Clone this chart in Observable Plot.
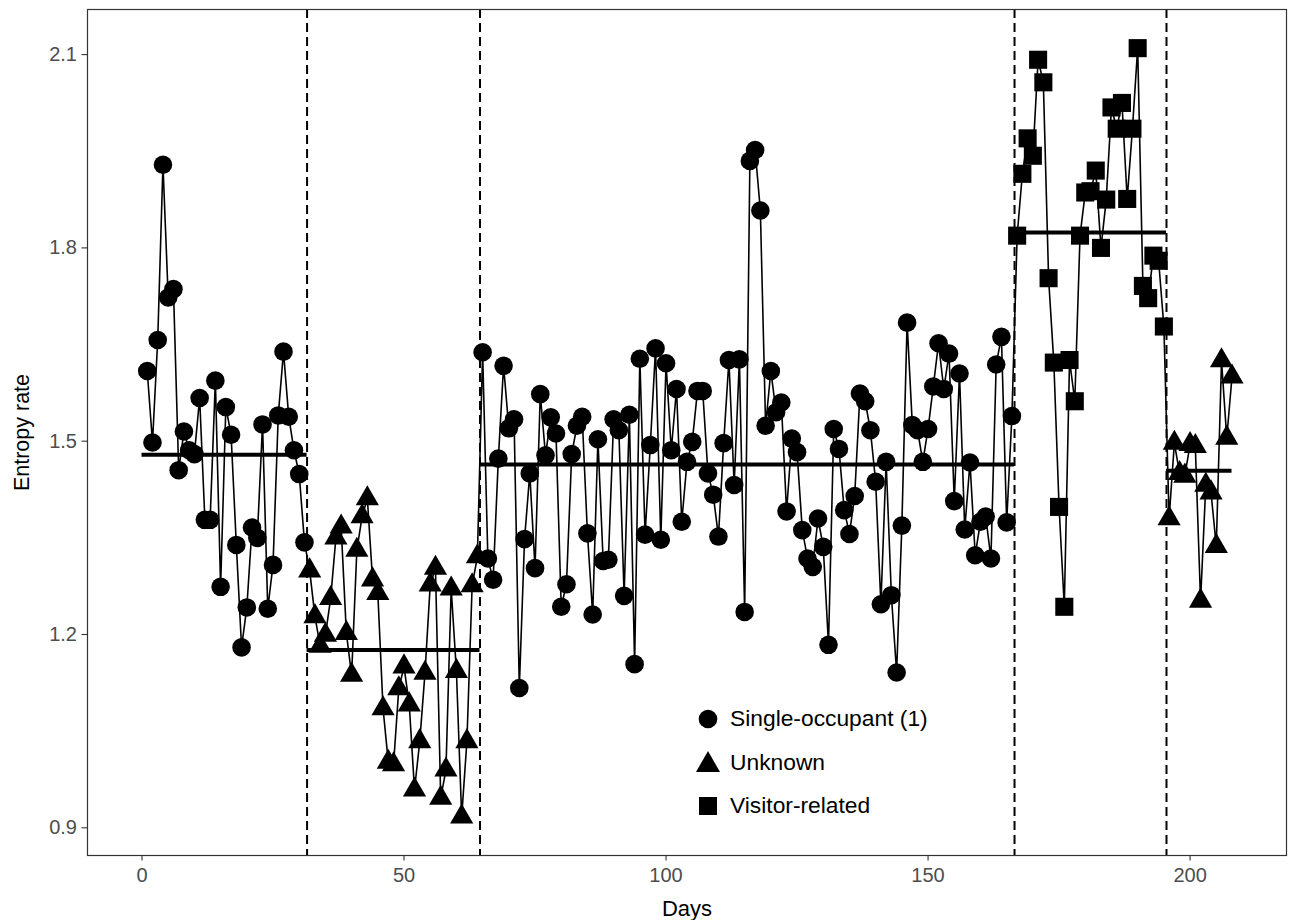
<!DOCTYPE html>
<html>
<head>
<meta charset="utf-8">
<script src="https://cdn.jsdelivr.net/npm/d3@7"></script>
<script src="https://cdn.jsdelivr.net/npm/@observablehq/plot@0.6"></script>
<style>
  body { margin: 0; background: white; font-family: "Liberation Sans", Arial, sans-serif; }
  #wrap { position: relative; width: 1291px; height: 920px; }
  #legend { position: absolute; left: 694px; top: 697px; }
  .item { display: flex; align-items: center; height: 43.5px; font-size: 22.8px; color: #000; }
  .item svg { width: 28px; height: 28px; margin-right: 8px; }
</style>
</head>
<body>
<div id="wrap"><div id="legend"></div></div>
<script>
// ---- data ----
const categories = ["Single-occupant (1)", "Unknown", "Visitor-related"];
const segmentTypes = ["Single-occupant (1)", "Unknown", "Single-occupant (1)", "Visitor-related", "Unknown"];
const segmentFirstDay = [1, 32, 65, 167, 196];

const seg1Values = [1.609, 1.498, 1.657, 1.929, 1.723, 1.736, 1.455, 1.515, 1.486, 1.480,
  1.567, 1.378, 1.378, 1.594, 1.274, 1.553, 1.510, 1.339, 1.180, 1.242,
  1.366, 1.350, 1.526, 1.240, 1.308, 1.540, 1.639, 1.538, 1.486, 1.449, 1.343];
const seg2Values = [1.299, 1.228, 1.182, 1.199, 1.256, 1.350, 1.367, 1.202, 1.137, 1.331,
  1.383, 1.411, 1.285, 1.264, 1.085, 1.002, 0.998, 1.116, 1.150, 1.091,
  0.959, 1.034, 1.140, 1.277, 1.303, 0.946, 0.990, 1.271, 1.143, 0.917,
  1.034, 1.276, 1.321];
const seg3Values = [1.638, 1.318, 1.285, 1.473, 1.617, 1.520, 1.534, 1.117, 1.348, 1.450,
  1.303, 1.573, 1.478, 1.537, 1.512, 1.243, 1.278, 1.480, 1.524, 1.538,
  1.357, 1.231, 1.503, 1.314, 1.316, 1.534, 1.517, 1.260, 1.541, 1.154,
  1.628, 1.355, 1.494, 1.644, 1.347, 1.621, 1.486, 1.581, 1.375, 1.468,
  1.499, 1.578, 1.578, 1.450, 1.417, 1.352, 1.497, 1.626, 1.432, 1.627,
  1.235, 1.935, 1.952, 1.858, 1.524, 1.609, 1.545, 1.560, 1.391, 1.504,
  1.483, 1.362, 1.318, 1.305, 1.380, 1.336, 1.184, 1.519, 1.488, 1.393,
  1.356, 1.415, 1.574, 1.562, 1.517, 1.437, 1.247, 1.468, 1.261, 1.141,
  1.369, 1.684, 1.525, 1.517, 1.468, 1.519, 1.585, 1.652, 1.581, 1.636,
  1.407, 1.605, 1.363, 1.467, 1.323, 1.375, 1.383, 1.318, 1.619, 1.662,
  1.374, 1.539];
const seg4Values = [1.819, 1.915, 1.970, 1.943, 2.092, 2.057, 1.753, 1.622, 1.398, 1.243,
  1.626, 1.562, 1.819, 1.886, 1.888, 1.920, 1.800, 1.875, 2.018, 1.985,
  2.025, 1.876, 1.985, 2.110, 1.741, 1.722, 1.788, 1.780, 1.678];
const seg5Values = [1.380, 1.497, 1.450, 1.446, 1.495, 1.492, 1.252, 1.432, 1.420, 1.337,
  1.625, 1.505, 1.600];

const segmentMeans = [1.479, 1.176, 1.464, 1.824, 1.454];
const segmentStart = [0, 31.5, 64.5, 166.5, 195.5];
const segmentEnd = [31.5, 64.5, 166.5, 195.5, 208];
const changePoints = [31.5, 64.5, 166.5, 195.5];

const xTicks = [0, 50, 100, 150, 200];
const yTicks = [0.9, 1.2, 1.5, 1.8, 2.1];

// ---- build tables ----
const allSegs = [seg1Values, seg2Values, seg3Values, seg4Values, seg5Values];
const data = [];
allSegs.forEach((vals, s) => vals.forEach((v, i) => data.push({day: segmentFirstDay[s] + i, value: v, type: segmentTypes[s]})));
const segs = segmentMeans.map((m, i) => ({start: segmentStart[i], end: segmentEnd[i], mean: m}));

const symbolOf = {"Single-occupant (1)": "circle", "Unknown": "triangle", "Visitor-related": "square"};
const rOf = {"Single-occupant (1)": 9.3, "Unknown": 8.6, "Visitor-related": 10.2};

const chart = Plot.plot({
  width: 1291,
  height: 920,
  marginLeft: 87,
  marginRight: 5,
  marginTop: 9,
  marginBottom: 65,
  x: {domain: [-10.4, 218.4]},
  y: {domain: [0.857, 2.17]},
  style: {fontFamily: "'Liberation Sans', Arial, sans-serif", background: "white", color: "black"},
  marks: [
    Plot.ruleX(changePoints, {stroke: "black", strokeWidth: 2, strokeDasharray: "9,5"}),
    Plot.line(data, {x: "day", y: "value", stroke: "black", strokeWidth: 1.6}),
    Plot.ruleY(segs, {y: "mean", x1: "start", x2: "end", stroke: "black", strokeWidth: 4}),
    ...categories.map(c => Plot.dot(data.filter(d => d.type === c), {
      x: "day", y: "value", symbol: symbolOf[c], r: rOf[c], fill: "black", stroke: "none"
    })),
    Plot.frame({stroke: "#333333", strokeWidth: 1.2}),
    Plot.axisX({ticks: xTicks, tickSize: 5.5, tickPadding: 7, fontSize: 20, label: null,
      stroke: "#333333", fill: "#4d4d4d", strokeWidth: 1.1}),
    Plot.axisY({ticks: yTicks, tickSize: 5.5, tickPadding: 5, fontSize: 20, label: null,
      tickFormat: d => d.toFixed(1), stroke: "#333333", fill: "#4d4d4d", strokeWidth: 1.1}),
    Plot.text(["Days"], {frameAnchor: "bottom", dy: 53, fontSize: 22, textAnchor: "middle", lineAnchor: "middle", fill: "black"}),
    Plot.text(["Entropy rate"], {frameAnchor: "left", dx: -65, rotate: -90, fontSize: 21.5, textAnchor: "middle", lineAnchor: "middle", fill: "black"})
  ]
});
document.getElementById("wrap").prepend(chart);

// legend (inside the panel, as in the reference)
const shapeSvg = {
  "circle": '<circle cx="14" cy="14" r="9.3" fill="black"/>',
  "triangle": '<path d="M14,3 L26,24 L2,24 Z" fill="black"/>',
  "square": '<rect x="5" y="5" width="18" height="18" fill="black"/>'
};
const legend = document.getElementById("legend");
categories.forEach(c => {
  const div = document.createElement("div");
  div.className = "item";
  div.innerHTML = `<svg viewBox="0 0 28 28">${shapeSvg[symbolOf[c]]}</svg><span>${c}</span>`;
  legend.appendChild(div);
});
</script>
</body>
</html>
